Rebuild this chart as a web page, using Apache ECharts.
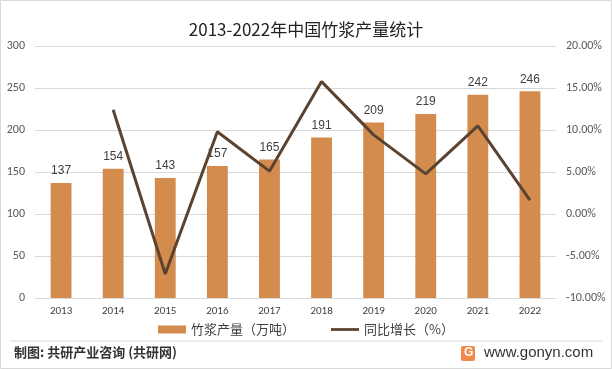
<!DOCTYPE html>
<html><head><meta charset="utf-8">
<script src="https://cdn.jsdelivr.net/npm/echarts@6/dist/echarts.min.js"></script>
<style>html,body{margin:0;padding:0;background:#fff}#c{width:612px;height:369px}</style>
</head><body><div id="c"></div>
<script>
const years = ['2013','2014','2015','2016','2017','2018','2019','2020','2021','2022'];
const production = [137,154,143,157,165,191,209,219,242,246];
const growth = [null,12.41,-7.14,9.79,5.10,15.76,9.42,4.78,10.50,1.65];
const leftTicks = [0,50,100,150,200,250,300];

const chart = echarts.init(document.getElementById('c'));
const font = 'Microsoft YaHei, "Noto Sans CJK SC", sans-serif';
chart.setOption({
  animation:false,
  title:{text:'2013-2022年中国竹浆产量统计',left:'center',top:16,
    textStyle:{fontFamily:font,fontSize:17,fontWeight:'normal',color:'#222'}},
  grid:{left:35,right:56,top:46,bottom:71},
  legend:{bottom:28,itemGap:36,itemWidth:28,itemHeight:8,
    textStyle:{fontFamily:font,fontSize:13,color:'#404040'},
    data:[{name:'竹浆产量（万吨）',icon:'rect'},{name:'同比增长（%）',icon:'path://M0,0 L30,0 L30,3 L0,3 Z'}]},
  xAxis:{type:'category',data:years,
    axisLine:{lineStyle:{color:'#d9d9d9'}},axisTick:{show:false},
    axisLabel:{color:'#404040',fontSize:11,margin:8,fontFamily:'Calibri, Carlito, "Liberation Sans", sans-serif'}},
  yAxis:[{type:'value',min:0,max:300,interval:50,
      axisLabel:{color:'#595959',fontSize:12,margin:10,fontFamily:'Calibri, Carlito, "Liberation Sans", sans-serif'},
      splitLine:{lineStyle:{color:'#d9d9d9'}},axisLine:{show:false},axisTick:{show:false}},
    {type:'value',min:-10,max:20,interval:5,
      axisLabel:{color:'#595959',fontSize:12,margin:10,formatter:v=>v.toFixed(2)+'%',fontFamily:'Calibri, Carlito, "Liberation Sans", sans-serif'},
      splitLine:{show:false},axisLine:{show:false},axisTick:{show:false}}],
  series:[
    {name:'竹浆产量（万吨）',type:'bar',data:production,barWidth:'40%',
      itemStyle:{color:'#D38B4E'},
      label:{show:true,position:'top',color:'#404040',fontSize:12,distance:6}},
    {name:'同比增长（%）',type:'line',yAxisIndex:1,data:growth,symbol:'none',
      lineStyle:{color:'#5C4330',width:3},itemStyle:{color:'#5C4330'}}
  ],
  graphic:[
    {type:'rect',shape:{x:0.5,y:0.5,width:611,height:368},style:{fill:'none',stroke:'#d9d9d9',lineWidth:1}},
    {type:'line',shape:{x1:10,y1:341,x2:602,y2:341},style:{stroke:'#d9d9d9',lineWidth:1}},
    {type:'text',left:14,top:346,style:{text:'制图: 共研产业咨询 (共研网)',fill:'#333',font:'bold 13px '+font}},
    {type:'rect',shape:{x:461,y:346,width:14,height:15,r:2},style:{fill:'#F08A4B'}},
    {type:'text',left:464,top:347,style:{text:'G',fill:'#fff',font:'bold 12px sans-serif'}},
    {type:'text',left:484,top:345,style:{text:'www.gonyn.com',fill:'#333',font:'15px "Liberation Sans", Arial, sans-serif'}}
  ]
});
</script></body></html>
